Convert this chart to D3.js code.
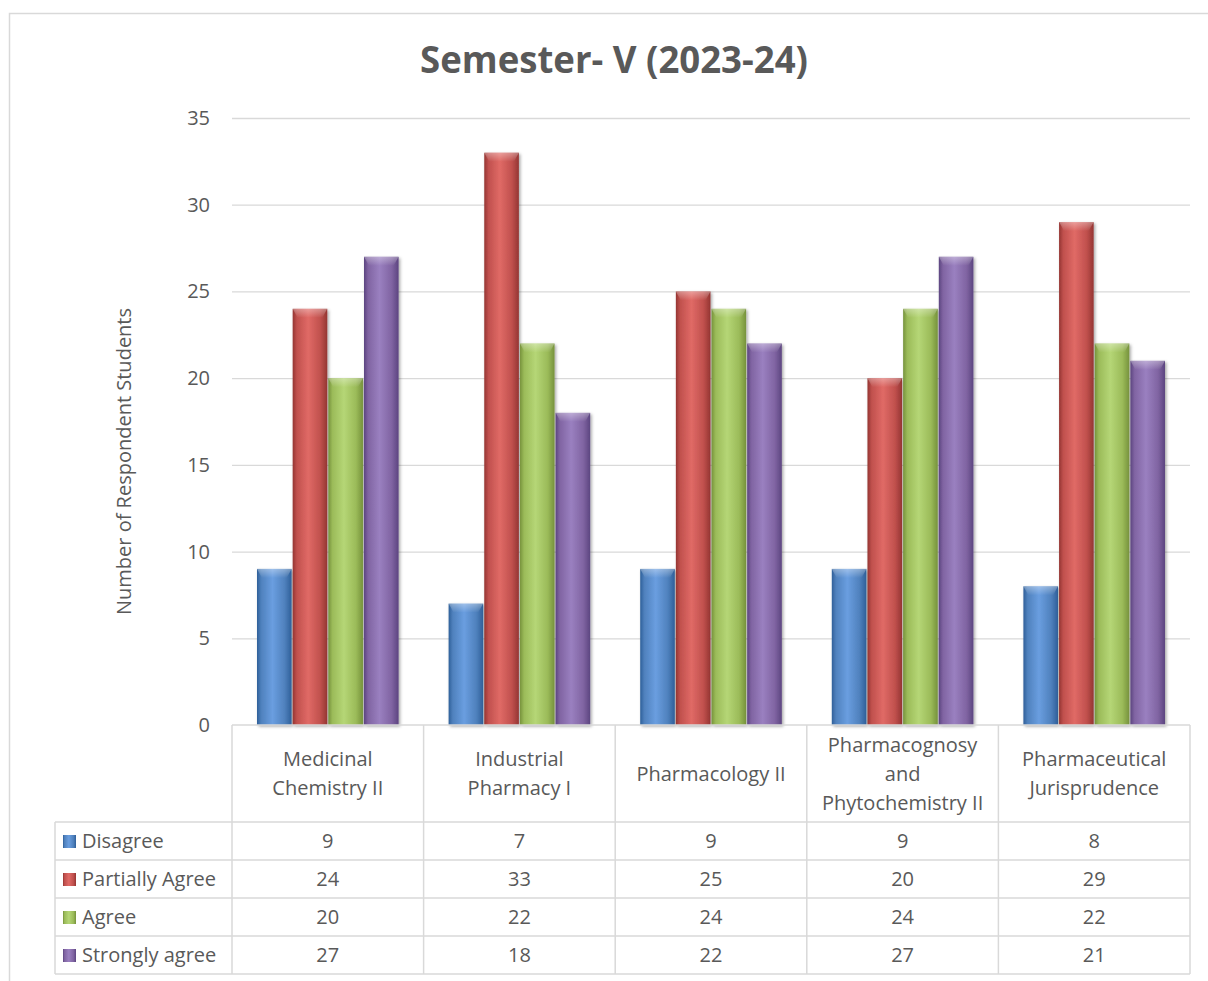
<!DOCTYPE html>
<html>
<head>
<meta charset="utf-8">
<script src="https://cdn.jsdelivr.net/npm/d3@7"></script>
<style>
  body { margin: 0; background: #fff; }
  text { font-family: "Open Sans", "Noto Sans", sans-serif; fill: #595959; }
</style>
</head>
<body>
<div id="chart"></div>
<script>
// data
const categories = [
  ["Medicinal", "Chemistry II"],
  ["Industrial", "Pharmacy I"],
  ["Pharmacology II"],
  ["Pharmacognosy", "and", "Phytochemistry II"],
  ["Pharmaceutical", "Jurisprudence"]
];
const seriesNames = ["Disagree", "Partially Agree", "Agree", "Strongly agree"];
const disagree = [9, 7, 9, 9, 8];
const partiallyAgree = [24, 33, 25, 20, 29];
const agree = [20, 22, 24, 24, 22];
const stronglyAgree = [27, 18, 22, 27, 21];
const yTicks = [0, 5, 10, 15, 20, 25, 30, 35];

const seriesValues = [disagree, partiallyAgree, agree, stronglyAgree];
const colors = ["#4f81bd", "#c0504d", "#9bbb59", "#8064a2"];
const lights = ["#6a9ee0", "#e06a66", "#b5d676", "#9a80c0"];
const darks = ["#2f5f99", "#943532", "#76923c", "#5c4580"];

const width = 1208, height = 981;
const svg = d3.select("#chart").append("svg")
  .attr("width", width).attr("height", height);

// outer frame
svg.append("rect")
  .attr("x", 9.5).attr("y", 13.5)
  .attr("width", 1220).attr("height", 1000)
  .attr("fill", "none").attr("stroke", "#d9d9d9").attr("stroke-width", 1.5);

const plotL = 232, plotR = 1190, plotT = 118, plotB = 725;

const x = d3.scaleBand()
  .domain(d3.range(categories.length))
  .range([plotL, plotR])
  .paddingInner(0).paddingOuter(0);

const xInner = d3.scaleBand()
  .domain(d3.range(seriesNames.length))
  .range([25, x.bandwidth() - 25])
  .paddingInner(0.03);

const y = d3.scaleLinear().domain([0, 35]).range([plotB, plotT]);

// gradients
const defs = svg.append("defs");
colors.forEach((c, i) => {
  const g = defs.append("linearGradient").attr("id", "grad" + i)
    .attr("x1", "0%").attr("x2", "100%").attr("y1", "0%").attr("y2", "0%");
  g.append("stop").attr("offset", "0%").attr("stop-color", darks[i]);
  g.append("stop").attr("offset", "12%").attr("stop-color", c);
  g.append("stop").attr("offset", "45%").attr("stop-color", lights[i]);
  g.append("stop").attr("offset", "80%").attr("stop-color", c);
  g.append("stop").attr("offset", "100%").attr("stop-color", darks[i]);
  const t = defs.append("linearGradient").attr("id", "top" + i)
    .attr("x1", "0%").attr("x2", "0%").attr("y1", "0%").attr("y2", "100%");
  t.append("stop").attr("offset", "0%").attr("stop-color", "#fff").attr("stop-opacity", 0.35);
  t.append("stop").attr("offset", "100%").attr("stop-color", "#fff").attr("stop-opacity", 0);
});
const sh = defs.append("filter").attr("id", "shadow")
  .attr("x", "-20%").attr("y", "-5%").attr("width", "150%").attr("height", "115%");
sh.append("feDropShadow").attr("dx", 1.5).attr("dy", 1.5).attr("stdDeviation", 1.5)
  .attr("flood-color", "#000").attr("flood-opacity", 0.35);

// gridlines
svg.append("g")
  .selectAll("line")
  .data(yTicks.slice(1))
  .join("line")
  .attr("x1", plotL).attr("x2", plotR)
  .attr("y1", d => y(d) + 0.5).attr("y2", d => y(d) + 0.5)
  .attr("stroke", "#d9d9d9").attr("stroke-width", 1.3);

// y axis labels
svg.append("g")
  .selectAll("text")
  .data(yTicks)
  .join("text")
  .attr("x", 210).attr("y", d => y(d))
  .attr("dy", "0.35em")
  .attr("text-anchor", "end")
  .style("font-size", "20px")
  .text(d => d);

svg.append("text")
  .attr("transform", `translate(131,${(plotT + plotB) / 2 + 40}) rotate(-90)`)
  .attr("text-anchor", "middle")
  .style("font-size", "20px")
  .text("Number of Respondent Students");

// title
svg.append("text")
  .attr("x", 614).attr("y", 73)
  .attr("text-anchor", "middle")
  .style("font-size", "37px").style("font-weight", "bold")
  .style("font-family", "'Open Sans', sans-serif")
  .attr("textLength", 388).attr("lengthAdjust", "spacingAndGlyphs")
  .text("Semester- V (2023-24)");

// bars
const groups = svg.append("g")
  .selectAll("g")
  .data(categories)
  .join("g")
  .attr("transform", (d, i) => `translate(${x(i)},0)`);

groups.each(function(cat, ci) {
  const g = d3.select(this);
  seriesValues.forEach((vals, si) => {
    const bx = xInner(si), bw = xInner.bandwidth();
    const by = y(vals[ci]), bh = y(0) - y(vals[ci]);
    g.append("rect")
      .attr("x", bx).attr("y", by).attr("width", bw).attr("height", bh)
      .attr("fill", `url(#grad${si})`)
      .attr("filter", "url(#shadow)");
    // bevel on top
    g.append("path")
      .attr("d", `M${bx},${by} L${bx + bw},${by} L${bx + bw - 5},${by + 9} L${bx + 5},${by + 9} Z`)
      .attr("fill", `url(#top${si})`);
  });
});

// data table
const rowY = [822, 860, 898, 936, 974];
const tableL = 55;
const tbl = svg.append("g").attr("stroke", "#d9d9d9").attr("stroke-width", 1.5);
// axis line / header top
tbl.append("line").attr("x1", plotL).attr("x2", plotR).attr("y1", plotB).attr("y2", plotB);
rowY.forEach(ry => {
  tbl.append("line").attr("x1", tableL).attr("x2", plotR).attr("y1", ry).attr("y2", ry);
});
d3.range(categories.length + 1).forEach(i => {
  const xx = i < categories.length ? x(i) : plotR;
  tbl.append("line").attr("x1", xx).attr("x2", xx).attr("y1", plotB).attr("y2", rowY[4]);
});
tbl.append("line").attr("x1", tableL).attr("x2", tableL).attr("y1", rowY[0]).attr("y2", rowY[4]);

// header category labels
categories.forEach((lines, i) => {
  const cx = x(i) + x.bandwidth() / 2;
  const cy = (plotB + rowY[0]) / 2;
  const lh = 29;
  lines.forEach((ln, k) => {
    svg.append("text")
      .attr("x", cx)
      .attr("y", cy + (k - (lines.length - 1) / 2) * lh)
      .attr("dy", "0.35em")
      .attr("text-anchor", "middle")
      .style("font-size", "20px")
      .text(ln);
  });
});

// legend column and values
seriesNames.forEach((name, si) => {
  const cy = (rowY[si] + rowY[si + 1]) / 2;
  svg.append("rect")
    .attr("x", 63).attr("y", cy - 6).attr("width", 13).attr("height", 13)
    .attr("fill", `url(#grad${si})`);
  svg.append("text")
    .attr("x", 82).attr("y", cy).attr("dy", "0.35em")
    .style("font-size", "20px")
    .text(name);
  seriesValues[si].forEach((v, ci) => {
    svg.append("text")
      .attr("x", x(ci) + x.bandwidth() / 2).attr("y", cy).attr("dy", "0.35em")
      .attr("text-anchor", "middle")
      .style("font-size", "20px")
      .text(v);
  });
});
</script>
</body>
</html>
